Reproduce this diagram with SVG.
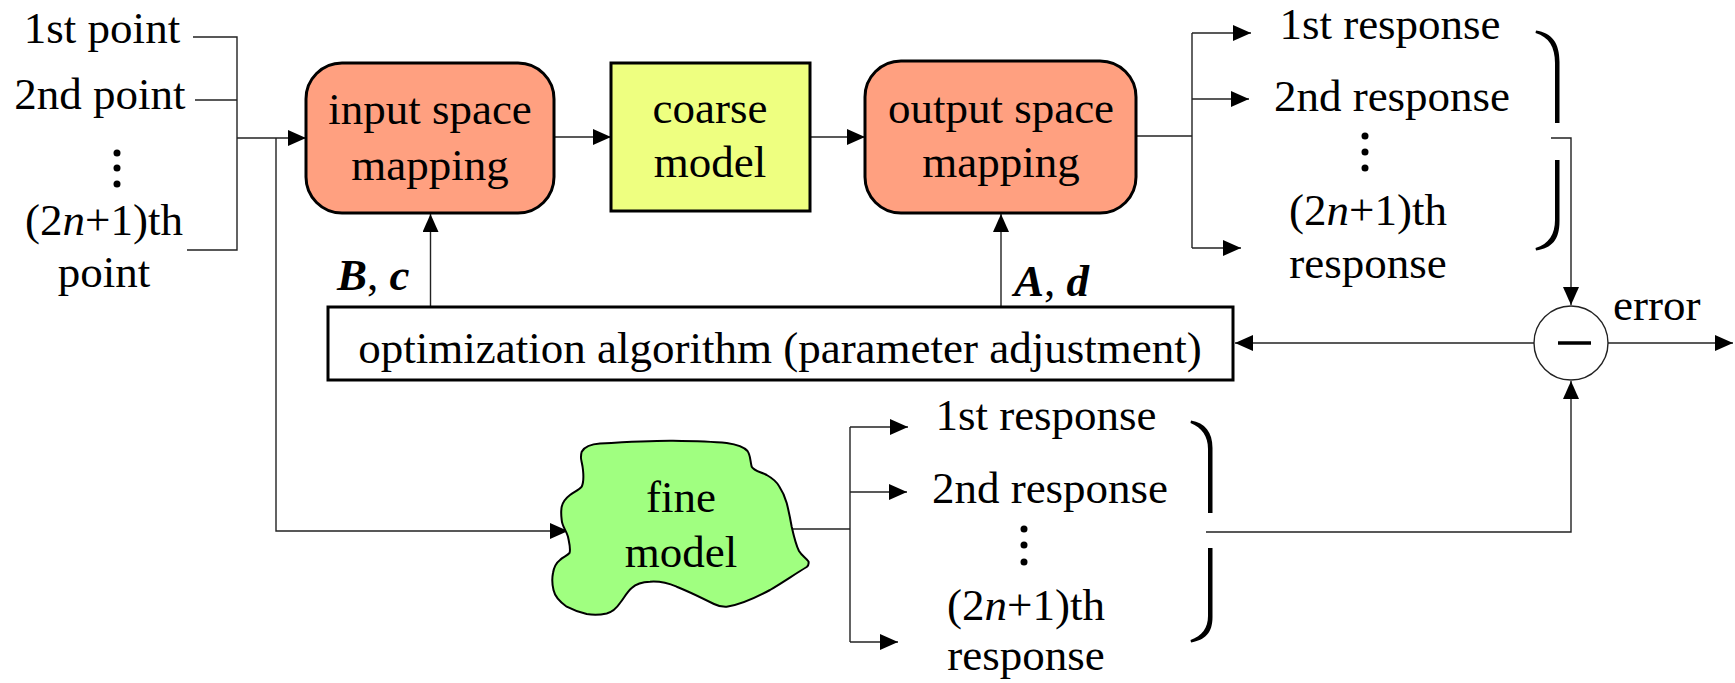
<svg xmlns="http://www.w3.org/2000/svg" width="1735" height="683" viewBox="0 0 1735 683">
<defs>
<marker id="ah" markerUnits="userSpaceOnUse" markerWidth="19" markerHeight="17" refX="18" refY="8" orient="auto">
<path d="M0,0 L18,8 L0,16 z" fill="#000"/>
</marker>
<style>
text{font-family:"Liberation Serif","Times New Roman",serif;font-size:45px;fill:#000}
.c{text-anchor:middle}
.bi{font-weight:bold;font-style:italic}
.ln{fill:none;stroke:#222;stroke-width:1.4}
.ar{fill:none;stroke:#222;stroke-width:1.4;marker-end:url(#ah)}
.box{stroke:#000;stroke-width:3}
.brace{fill:#000;stroke:none}
.dot{fill:#000}
</style>
</defs>
<rect width="1735" height="683" fill="#fff"/>

<g id="connectors">
<polyline class="ln" points="193,37 237,37 237,250 187,250"/>
<line class="ln" x1="195" y1="100" x2="237" y2="100"/>
<line class="ar" x1="237" y1="138" x2="306" y2="138"/>
<polyline class="ar" points="276,138 276,531 568,531"/>
<line class="ar" x1="554" y1="137" x2="611" y2="137"/>
<line class="ar" x1="810" y1="137" x2="865" y2="137"/>
<polyline class="ln" points="1136,136 1192,136"/>
<line class="ln" x1="1192" y1="33" x2="1192" y2="248"/>
<line class="ar" x1="1192" y1="33" x2="1251" y2="33"/>
<line class="ar" x1="1192" y1="99" x2="1249" y2="99"/>
<line class="ar" x1="1192" y1="248" x2="1241" y2="248"/>
<polyline class="ar" points="1551,138 1571,138 1571,305"/>
<line class="ar" x1="430.5" y1="307" x2="430.5" y2="214"/>
<line class="ar" x1="1001" y1="307" x2="1001" y2="214"/>
<line class="ar" x1="1534" y1="343" x2="1235" y2="343"/>
<line class="ar" x1="1608" y1="343" x2="1733" y2="343"/>
<polyline class="ar" points="1206,532 1571,532 1571,381"/>
<line class="ln" x1="792" y1="529" x2="850" y2="529"/>
<line class="ln" x1="850" y1="427" x2="850" y2="642"/>
<line class="ar" x1="850" y1="427" x2="908" y2="427"/>
<line class="ar" x1="850" y1="492" x2="907" y2="492"/>
<line class="ar" x1="850" y1="642" x2="898" y2="642"/>
</g>

<g id="inputs">
<text class="c" x="102" y="43">1st point</text>
<text class="c" x="100" y="109">2nd point</text>
<circle class="dot" cx="117" cy="153" r="3.5"/>
<circle class="dot" cx="117" cy="168" r="3.5"/>
<circle class="dot" cx="117" cy="184" r="3.5"/>
<text class="c" x="104" y="235">(2<tspan font-style="italic">n</tspan>+1)th</text>
<text class="c" x="104" y="287">point</text>
</g>

<g id="input-space-mapping">
<rect class="box" x="306" y="63" width="248" height="150" rx="36" ry="36" fill="#FFA080"/>
<text class="c" x="430" y="124">input space</text>
<text class="c" x="430" y="180">mapping</text>
</g>

<g id="coarse-model">
<rect class="box" x="611" y="63" width="199" height="148" fill="#EEFF80"/>
<text class="c" x="710" y="123">coarse</text>
<text class="c" x="710" y="177">model</text>
</g>

<g id="output-space-mapping">
<rect class="box" x="865" y="61" width="271" height="152" rx="36" ry="36" fill="#FFA080"/>
<text class="c" x="1001" y="123">output space</text>
<text class="c" x="1001" y="177">mapping</text>
</g>

<g id="label-Bc"><text class="bi" x="337" y="290">B<tspan font-weight="normal" font-style="normal">, </tspan>c</text></g>
<g id="label-Ad"><text class="bi" x="1014" y="296">A<tspan font-weight="normal" font-style="normal">, </tspan>d</text></g>

<g id="optimization">
<rect class="box" x="328" y="307" width="905" height="73" fill="#fff"/>
<text class="c" x="780" y="363">optimization algorithm (parameter adjustment)</text>
</g>

<g id="responses-top">
<text class="c" x="1390" y="39">1st response</text>
<text class="c" x="1392" y="111">2nd response</text>
<circle class="dot" cx="1365" cy="136" r="3.5"/>
<circle class="dot" cx="1365" cy="152" r="3.5"/>
<circle class="dot" cx="1365" cy="168" r="3.5"/>
<text class="c" x="1368" y="225">(2<tspan font-style="italic">n</tspan>+1)th</text>
<text class="c" x="1368" y="278">response</text>
<path class="brace" d="M1536,30.5 C1552,33 1559.5,43 1559.5,62 L1559.5,123 L1555,123 L1555,63 C1555,47 1549,37 1535.5,33 z"/>
<path class="brace" d="M1555,160 L1559.5,160 L1559.5,221 C1559.5,240 1552,248 1536,250.5 L1535.5,248 C1549,244 1555,234 1555,220 z"/>
</g>

<g id="error-node">
<circle cx="1571" cy="343" r="37" fill="#fff" stroke="#222" stroke-width="1.4"/>
<line x1="1558" y1="343" x2="1591" y2="343" stroke="#000" stroke-width="3.5"/>
<text x="1613" y="320">error</text>
</g>

<g id="fine-model">
<path d="M581.7,451.7 C585,446 592,444 600,443.5 C625,442 650,440.5 673,440.7 C695,441 712,441.5 726.7,443 C737,444.5 744,447 747.5,451 C750.5,455 750,460 751.7,466.7 C754,471 761,472 766.7,475 C772,478 776,481 779,486 C783,492 785,497 786.7,503 C789,512 790.5,520 791.7,526.7 C794,537 796,545 799,551 C802,556 806,558 808.5,561.5 C809,564 808,566 806.7,567 C795,574 782,583 770,590 C757,597 740,605 726.7,606.7 C721,607 718,606 714,604 C700,597 688,591 676.7,586.7 C668,583 659,581 650,581.7 C642,582 636,584 631.7,588 C627,592 624,598 620,603 C616,609 612,612 606.7,613.5 C600,615 592,615 586.7,614 C578,612 571,609 566.7,606.7 C560,602 555,597 553.5,590 C552,584 552,578 553,573 C554,567 556,563 560,560 C563,557 567,556 569.5,553 C571,549 569,542 568,536.7 C566,530 562,526 561.7,520 C561,515 561,511 561.7,506.7 C563,501 566,498 570,495 C574,492 579,490 581.7,486.7 C584,482 583.5,475 583,470 C582.5,464 580.5,459 581,456.7 C581,454.5 581.3,453 581.7,451.7 z" fill="#A0FF80" stroke="#000" stroke-width="2"/>
<text class="c" x="681" y="512">fine</text>
<text class="c" x="681" y="567">model</text>
</g>

<g id="responses-bottom">
<text class="c" x="1046" y="430">1st response</text>
<text class="c" x="1050" y="503">2nd response</text>
<circle class="dot" cx="1024" cy="529" r="3.5"/>
<circle class="dot" cx="1024" cy="545" r="3.5"/>
<circle class="dot" cx="1024" cy="562" r="3.5"/>
<text class="c" x="1026" y="620">(2<tspan font-style="italic">n</tspan>+1)th</text>
<text class="c" x="1026" y="670">response</text>
<path class="brace" d="M1191,420.5 C1205,423 1212.5,432 1212.5,448 L1212.5,513 L1208,513 L1208,449 C1208,436 1202,428 1190.5,423 z"/>
<path class="brace" d="M1208,548 L1212.5,548 L1212.5,617 C1212.5,633 1205,640 1191,642.5 L1190.5,640 C1202,636 1208,628 1208,616 z"/>
</g>
</svg>
